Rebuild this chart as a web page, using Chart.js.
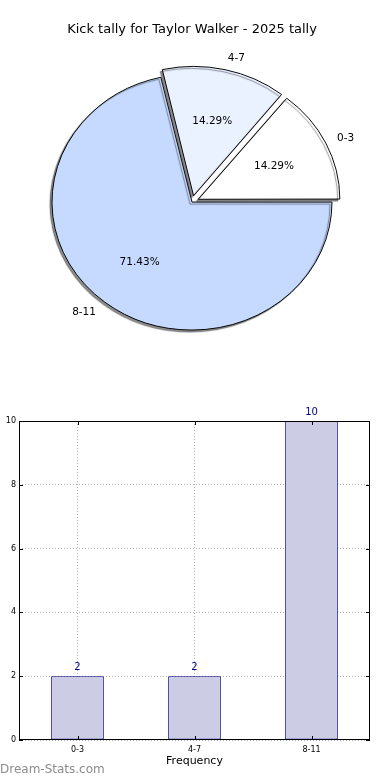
<!DOCTYPE html>
<html>
<head>
<meta charset="utf-8">
<script src="https://cdn.jsdelivr.net/npm/chart.js@4.4.1/dist/chart.umd.min.js"></script>
<style>
    body { margin: 0; background: #fff; width: 390px; height: 780px; position: relative; overflow: hidden; }
    #pieChart { position: absolute; left: 0; top: 0; }
    #barChart { position: absolute; left: 0; top: 404px; }
    #watermark { position: absolute; left: 0; top: 762px; font: 12px "DejaVu Sans", sans-serif; color: #8c8c8c; }
</style>
</head>
<body>
<canvas id="pieChart" width="390" height="404"></canvas>
<canvas id="barChart" width="390" height="376"></canvas>
<div id="watermark">Dream-Stats.com</div>
<script>
const chartTitle = 'Kick tally for Taylor Walker - 2025 tally';
const categories = ['0-3', '4-7', '8-11'];
const tallyCounts = [2, 2, 10];
const yTickValues = [0, 2, 4, 6, 8, 10];
const xAxisTitle = 'Frequency';

// styles
const sliceColors = ['#ffffff', '#eaf1ff', '#c6d9ff'];
const sliceOffsets = [28, 28, 0];
const ELLIPSE = 128 / 140;

Chart.defaults.font.family = '"DejaVu Sans", sans-serif';
Chart.defaults.color = '#000';

// matplotlib goes counter-clockwise, chart.js clockwise, so reverse the order
const pieLabels = categories.slice().reverse();
const pieValues = tallyCounts.slice().reverse();
const pieTotal = pieValues.reduce((a, b) => a + b, 0);

const pieShape = {
    id: 'pieShape',
    beforeDatasetsDraw(chart) {
        const arc = chart.getDatasetMeta(0).data[0];
        const ctx = chart.ctx;
        ctx.save();
        ctx.translate(arc.x, arc.y);
        ctx.scale(1, ELLIPSE);
        ctx.translate(-arc.x, -arc.y);
        ctx.shadowColor = 'rgba(0,0,0,0.45)';
        ctx.shadowOffsetX = -2;
        ctx.shadowOffsetY = 2;
        ctx.shadowBlur = 1;
    },
    afterDatasetsDraw(chart) {
        const ctx = chart.ctx;
        ctx.restore();
        ctx.save();
        ctx.font = '10.5px "DejaVu Sans", sans-serif';
        ctx.fillStyle = '#000';
        ctx.textBaseline = 'middle';
        chart.getDatasetMeta(0).data.forEach((arc, i) => {
            const mid = (arc.startAngle + arc.endAngle) / 2;
            const shift = (arc.options.offset || 0) / 4;
            const r = arc.outerRadius;
            const cos = Math.cos(mid), sin = Math.sin(mid);
            const at = d => [arc.x + cos * (d + shift), arc.y + sin * (d + shift) * ELLIPSE];

            let [lx, ly] = at(1.1 * r);
            ctx.textAlign = cos >= 0 ? 'left' : 'right';
            ctx.fillText(pieLabels[i], lx, ly);

            [lx, ly] = at(0.6 * r);
            ctx.textAlign = 'center';
            ctx.fillText((pieValues[i] / pieTotal * 100).toFixed(2) + '%', lx, ly);
        });
        ctx.restore();
    }
};

new Chart(document.getElementById('pieChart'), {
    type: 'pie',
    data: {
        labels: pieLabels,
        datasets: [{
            data: pieValues,
            backgroundColor: sliceColors.slice().reverse(),
            offset: sliceOffsets.slice().reverse(),
            borderColor: '#000',
            borderWidth: 1,
            clip: false
        }]
    },
    options: {
        responsive: false,
        animation: false,
        rotation: 90,
        radius: 140,
        layout: { padding: { left: 0, right: 6, top: 0, bottom: 47.5 } },
        plugins: {
            legend: { display: false },
            tooltip: { enabled: false },
            title: {
                display: true,
                text: chartTitle,
                color: '#000',
                font: { size: 13, weight: 'normal' },
                padding: { top: 22, bottom: 10 }
            }
        }
    },
    plugins: [pieShape]
});

const frameBox = {
    id: 'frameBox',
    afterDatasetsDraw(chart) {
        const { ctx, chartArea: a, scales } = chart;
        ctx.save();
        ctx.strokeStyle = '#000';
        ctx.lineWidth = 1;
        ctx.strokeRect(a.left + 0.5, a.top + 0.5, a.right - a.left - 1, a.bottom - a.top - 1);
        ctx.beginPath();
        yTickValues.forEach(v => {
            const y = Math.round(scales.y.getPixelForValue(v)) + 0.5;
            ctx.moveTo(a.left, y); ctx.lineTo(a.left + 4, y);
            ctx.moveTo(a.right, y); ctx.lineTo(a.right - 4, y);
        });
        categories.forEach((c, i) => {
            const x = Math.round(scales.x.getPixelForValue(i)) + 0.5;
            ctx.moveTo(x, a.bottom); ctx.lineTo(x, a.bottom - 4);
            ctx.moveTo(x, a.top); ctx.lineTo(x, a.top + 4);
        });
        ctx.stroke();

        ctx.fillStyle = '#00008b';
        ctx.font = '10px "DejaVu Sans", sans-serif';
        ctx.textAlign = 'center';
        ctx.textBaseline = 'middle';
        chart.getDatasetMeta(0).data.forEach((bar, i) => {
            ctx.fillText(String(tallyCounts[i]), bar.x, bar.y - 9);
        });
        ctx.restore();
    }
};

new Chart(document.getElementById('barChart'), {
    type: 'bar',
    data: {
        labels: categories,
        datasets: [{
            data: tallyCounts,
            backgroundColor: '#ccccE4',
            borderColor: '#000080',
            borderWidth: 1,
            borderSkipped: false,
            barPercentage: 0.45,
            categoryPercentage: 1
        }]
    },
    options: {
        responsive: false,
        animation: false,
        layout: { padding: { top: 17, right: 20, left: 0, bottom: 0 } },
        plugins: {
            legend: { display: false },
            tooltip: { enabled: false }
        },
        scales: {
            x: {
                grid: { offset: false, color: '#b0b0b0', drawTicks: false },
                border: { display: false, dash: [1, 2] },
                ticks: { font: { size: 8 }, color: '#000', padding: 5, maxRotation: 0 },
                title: {
                    display: true,
                    text: xAxisTitle,
                    color: '#000',
                    font: { size: 11 },
                    padding: { top: 0, bottom: 12.5 }
                },
                afterFit: s => { s.height = 40; }
            },
            y: {
                min: 0,
                max: 10,
                grid: { color: '#b0b0b0', drawTicks: false },
                border: { display: false, dash: [1, 2] },
                ticks: { stepSize: 2, font: { size: 8 }, color: '#000', padding: 3 },
                afterBuildTicks: s => { s.ticks = yTickValues.map(v => ({ value: v })); },
                afterFit: s => { s.width = 19; }
            }
        }
    },
    plugins: [frameBox]
});
</script>
</body>
</html>
